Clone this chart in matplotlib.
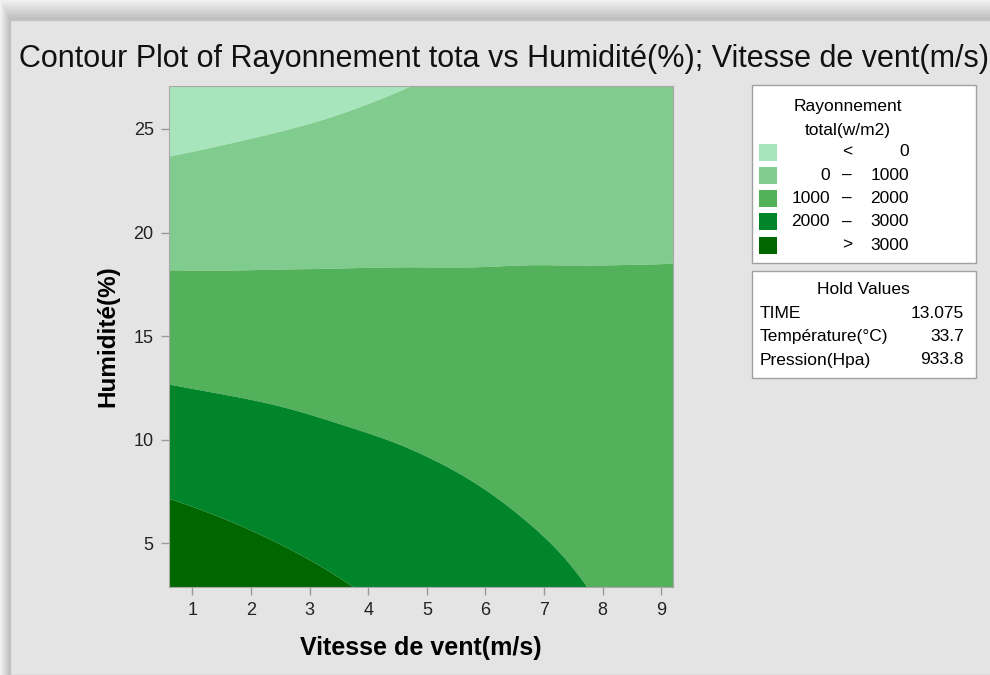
import numpy as np
import matplotlib.pyplot as plt
import matplotlib.tri as mtri
from matplotlib.patches import Rectangle

plt.rcParams['font.family'] = ['Liberation Sans', 'DejaVu Sans']

# grid of the fitted surface
vitesse = [0.6, 1.5, 2.5, 3.5, 4.5, 5.5, 6.5, 7.5, 8.5, 9.2]
humidite = [2.9, 7, 11, 15, 19, 23, 27.1]
rayonnement = [
    [3780, 3560, 3310, 3060, 2810, 2560, 2310, 2060, 1800, 1620],
    [3030, 2870, 2690, 2510, 2330, 2150, 1960, 1780, 1590, 1460],
    [2300, 2200, 2090, 1970, 1860, 1740, 1620, 1500, 1380, 1300],
    [1580, 1530, 1490, 1440, 1390, 1340, 1280, 1230, 1180, 1140],
    [850, 860, 880, 900, 920, 930, 950, 960, 970, 980],
    [120, 200, 280, 360, 450, 530, 610, 690, 760, 820],
    [-630, -490, -340, -190, -40, 110, 260, 410, 550, 650],
]
levels = [-5000, 0, 1000, 2000, 3000, 10000]
colors = ['#a8e5bd', '#80cc8e', '#53b05b', '#00852a', '#006600']
legend_lo = ['', '0', '1000', '2000', '']
legend_mid = ['<', '\u2013', '\u2013', '\u2013', '>']
legend_hi = ['0', '1000', '2000', '3000', '3000']
hold_names = ['TIME', 'Température(°C)', 'Pression(Hpa)']
hold_vals = ['13.075', '33.7', '933.8']

fig = plt.figure(figsize=(9.9, 6.75), dpi=100)
fig.patch.set_facecolor('#f6f6f6')

# window panel with a soft shadow on top/left
for i in range(10):
    g = 0.95 - 0.022 * i
    fig.patches.append(Rectangle((i / 990, 0), 1, (676 - 2 * i) / 675,
                                 transform=fig.transFigure, facecolor=(g, g, g),
                                 edgecolor='none', zorder=-10 + i * 0.01))
fig.patches.append(Rectangle((10 / 990, 0), 1, 655 / 675, transform=fig.transFigure,
                             facecolor='#e4e4e4', edgecolor='#c4c4c4', lw=1, zorder=-9))

fig.text(19 / 990, 1 - 59 / 675, 'Contour Plot of Rayonnement tota vs Humidité(%); Vitesse de vent(m/s)',
         fontsize=22, va='center', ha='left', color='#111111')

ax = fig.add_axes([169 / 990, 1 - 587 / 675, 504 / 990, 501 / 675])
X, Y = np.meshgrid(vitesse, humidite)
Z = np.array(rayonnement, dtype=float)
tri = mtri.Triangulation(X.ravel(), Y.ravel())
interp = mtri.CubicTriInterpolator(tri, Z.ravel())
tri_f, z_f = mtri.UniformTriRefiner(tri).refine_field(Z.ravel(), triinterpolator=interp, subdiv=4)
ax.tricontourf(tri_f, z_f, levels=levels, colors=colors, antialiased=True)
ax.set_xlim(0.6, 9.2)
ax.set_ylim(2.9, 27.07)
ax.set_xticks(range(1, 10))
ax.set_yticks([5, 10, 15, 20, 25])
for s in ax.spines.values():
    s.set_color('#a8a8a8')
ax.tick_params(colors='#999999', labelcolor='#222222', labelsize=13, length=6, width=1, pad=5)
ax.set_xlabel('Vitesse de vent(m/s)', fontsize=18, fontweight='bold', labelpad=12)
ax.set_ylabel('Humidité(%)', fontsize=17.5, fontweight='bold', labelpad=10)

# legend box for the contour levels
fig.patches.append(Rectangle((752 / 990, 1 - 263 / 675), 224 / 990, 178 / 675, transform=fig.transFigure,
                             facecolor='white', edgecolor='#a0a0a0', lw=1))
fig.text(848 / 990, 1 - 107 / 675, 'Rayonnement', fontsize=12.5, ha='center', va='center')
fig.text(848 / 990, 1 - 131 / 675, 'total(w/m2)', fontsize=12.5, ha='center', va='center')
for i in range(5):
    yc = 152 + i * 23.3
    fig.patches.append(Rectangle((759 / 990, 1 - (yc + 8.5) / 675), 18 / 990, 17 / 675,
                                 transform=fig.transFigure, facecolor=colors[i], edgecolor='none'))
    fig.text(830 / 990, 1 - yc / 675, legend_lo[i], fontsize=12.5, ha='right', va='center')
    fig.text(847 / 990, 1 - yc / 675, legend_mid[i], fontsize=12.5, ha='center', va='center')
    fig.text(909 / 990, 1 - yc / 675, legend_hi[i], fontsize=12.5, ha='right', va='center')

# hold values box
fig.patches.append(Rectangle((752 / 990, 1 - 378 / 675), 224 / 990, 107 / 675, transform=fig.transFigure,
                             facecolor='white', edgecolor='#a0a0a0', lw=1))
fig.text(863 / 990, 1 - 290 / 675, 'Hold Values', fontsize=12.5, ha='center', va='center')
for i in range(3):
    yc = 313 + i * 23.5
    fig.text(760 / 990, 1 - yc / 675, hold_names[i], fontsize=12.5, ha='left', va='center')
    fig.text(964 / 990, 1 - yc / 675, hold_vals[i], fontsize=12.5, ha='right', va='center')

fig.savefig('out.png', dpi=100)
